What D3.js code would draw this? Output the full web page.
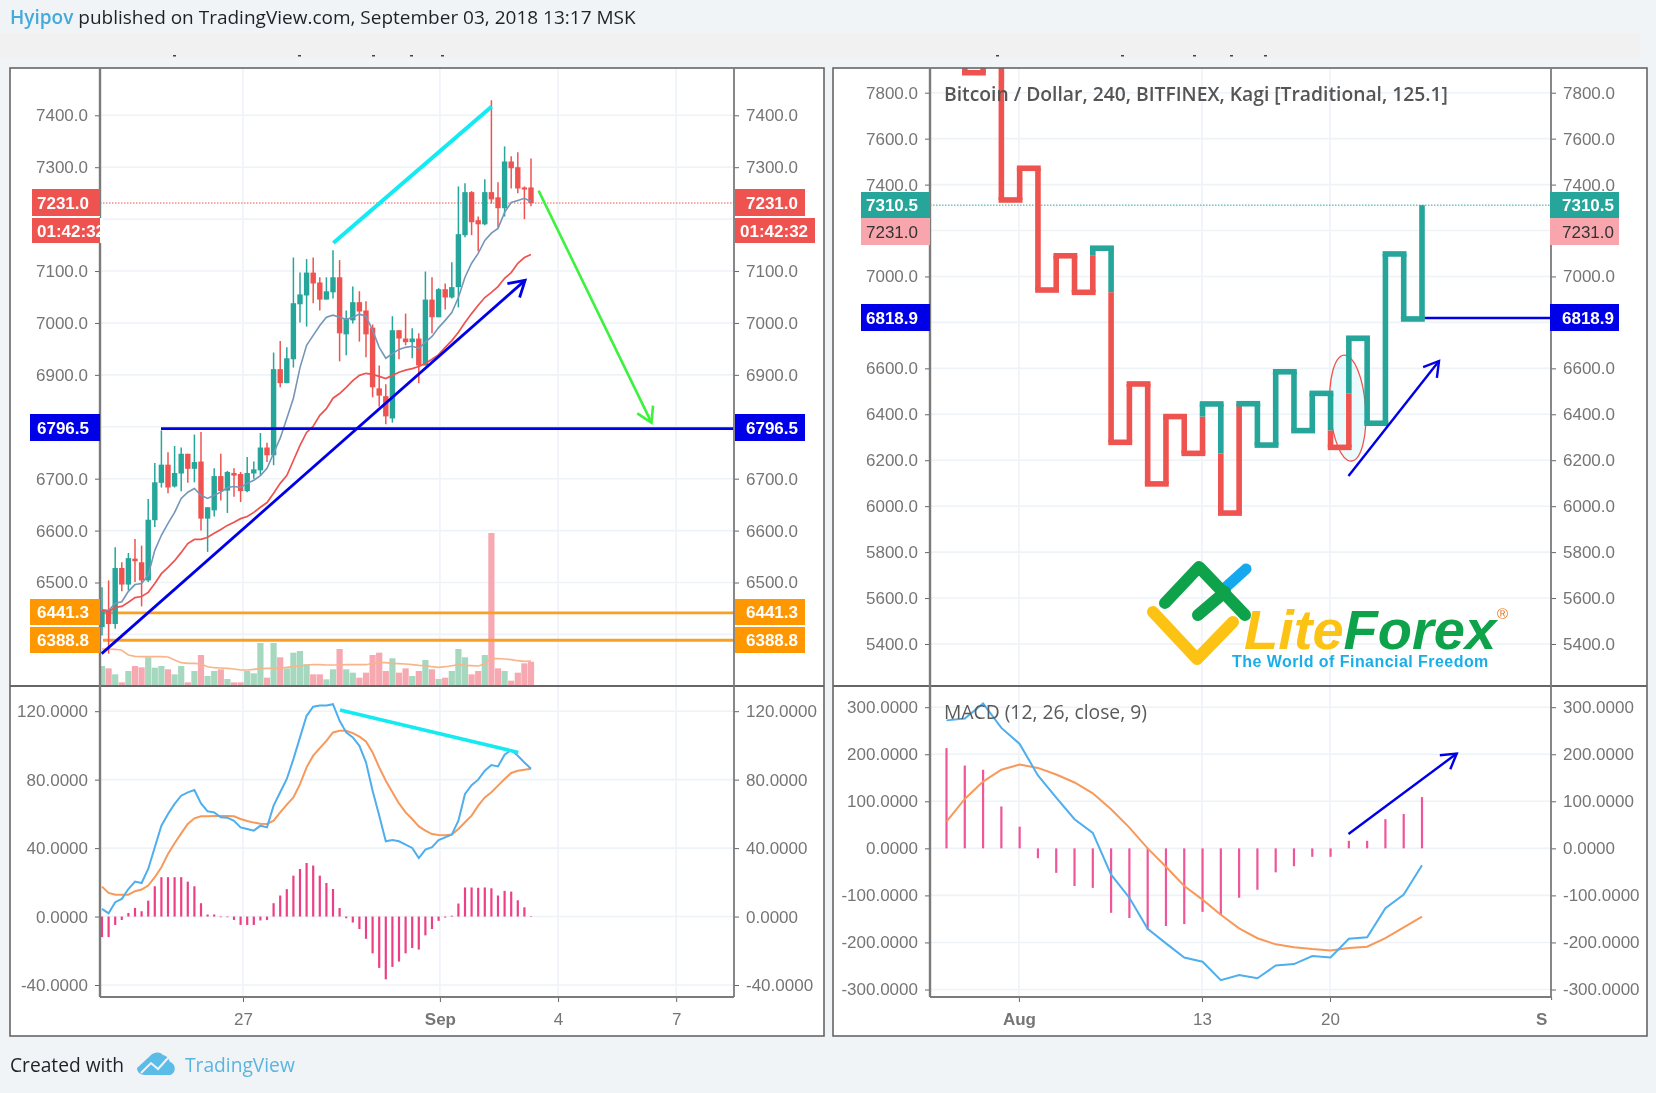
<!DOCTYPE html>
<html>
<head>
<meta charset="utf-8">
<script src="https://cdn.jsdelivr.net/npm/d3@7"></script>
<style>
    html, body { margin: 0; padding: 0; background: #f1f4f7; }
    svg { display: block; filter: blur(0.35px); }
    .tick-label { font-family: "Liberation Sans", sans-serif; font-size: 17px; fill: #757575; }
    .box-label { font-family: "Liberation Sans", sans-serif; font-size: 17px; font-weight: bold; }
    .caption { font-family: "Open Sans", sans-serif; }
</style>
</head>
<body>
<div id="chart"></div>
<script>
// left chart, 4h candles
var opens = [6414, 6447, 6420, 6528, 6496, 6546, 6539, 6504, 6620, 6692,
    6727, 6685, 6710, 6748, 6719, 6733, 6623, 6639, 6705, 6677,
    6711, 6709, 6676, 6710, 6716, 6760, 6745, 6911, 6884, 6930,
    7036, 7053, 7097, 7078, 7045, 7059, 7088, 6978, 7005, 7040,
    7024, 6991, 6874, 6859, 6816, 6986, 6970, 6963, 6970, 6918,
    7045, 7011, 7065, 7049, 7069, 7169, 7252, 7198, 7190, 7252,
    7242, 7221, 7311, 7300, 7261, 7261]
var closes = [6446, 6420, 6528, 6496, 6547, 6541, 6504, 6621, 6693, 6727,
    6683, 6711, 6748, 6719, 6732, 6623, 6645, 6705, 6676, 6713,
    6706, 6676, 6711, 6718, 6760, 6745, 6911, 6884, 6932, 7038,
    7055, 7097, 7076, 7045, 7061, 7088, 6980, 7009, 7040, 7022,
    6978, 6876, 6860, 6820, 6986, 6970, 6963, 6970, 6918, 7045,
    7011, 7065, 7049, 7069, 7171, 7252, 7194, 7190, 7252, 7238,
    7221, 7311, 7298, 7259, 7257, 7231]
var highs = [6491, 6504, 6568, 6539, 6557, 6584, 6571, 6661, 6730, 6793,
    6751, 6763, 6760, 6748, 6785, 6790, 6645, 6720, 6748, 6715,
    6720, 6713, 6742, 6733, 6788, 6769, 6943, 6965, 6953, 7126,
    7097, 7123, 7126, 7088, 7088, 7140, 7121, 7024, 7070, 7061,
    7042, 6997, 6918, 6882, 7013, 6986, 7018, 6990, 6980, 7099,
    7088, 7067, 7076, 7117, 7263, 7269, 7254, 7205, 7277, 7429,
    7271, 7340, 7321, 7329, 7263, 7317]
var lows = [6398, 6363, 6411, 6483, 6485, 6501, 6454, 6501, 6607, 6683,
    6672, 6683, 6676, 6692, 6693, 6600, 6559, 6627, 6658, 6634,
    6665, 6655, 6674, 6700, 6706, 6732, 6726, 6876, 6884, 6914,
    7001, 6993, 7038, 7024, 7045, 7047, 6926, 6938, 6999, 6964,
    6934, 6857, 6839, 6805, 6808, 6930, 6957, 6932, 6884, 6918,
    6980, 7011, 7026, 7047, 7030, 7165, 7169, 7138, 7188, 7230,
    7184, 7205, 7259, 7250, 7200, 7225]
var volumes = [57, 50, 32, 8, 42, 57, 53, 83, 52, 57,
    47, 32, 57, 8, 42, 90, 27, 42, 47, 18,
    8, 8, 42, 35, 126, 22, 126, 83, 50, 97,
    102, 62, 32, 32, 17, 47, 108, 47, 37, 22,
    37, 90, 97, 42, 80, 37, 50, 27, 42, 75,
    47, 18, 22, 42, 108, 83, 32, 42, 90, 456,
    50, 42, 13, 37, 65, 70]
var volumeMa = [108, 108, 107, 104, 90, 86, 85, 85, 85, 85,
    84, 75, 67, 65, 65, 63, 55, 52, 51, 50,
    48, 45, 45, 47, 49, 50, 50, 50, 53, 55,
    57, 60, 61, 61, 60, 60, 60, 61, 61, 61,
    61, 65, 67, 67, 65, 64, 63, 61, 59, 58,
    55, 53, 55, 58, 61, 59, 58, 57, 63, 80,
    79, 78, 76, 73, 71, 72]
var fastMa = [6448, 6446, 6460, 6463, 6483, 6496, 6498, 6514, 6562, 6591,
    6614, 6635, 6662, 6674, 6681, 6668, 6662, 6668, 6674, 6683,
    6685, 6683, 6691, 6697, 6706, 6720, 6749, 6778, 6816, 6855,
    6914, 6957, 6976, 6995, 7011, 7015, 7011, 7007, 7011, 7017,
    7013, 6986, 6953, 6932, 6941, 6949, 6953, 6955, 6951, 6963,
    6974, 6991, 7005, 7020, 7049, 7088, 7115, 7134, 7159, 7173,
    7182, 7213, 7232, 7236, 7240, 7234]
var slowMa = [6446, 6444, 6452, 6454, 6462, 6471, 6473, 6481, 6498, 6517,
    6529, 6542, 6558, 6575, 6583, 6583, 6587, 6595, 6602, 6610,
    6616, 6623, 6627, 6635, 6645, 6654, 6672, 6691, 6706, 6735,
    6764, 6789, 6801, 6822, 6835, 6855, 6864, 6876, 6889, 6899,
    6903, 6901, 6897, 6893, 6899, 6905, 6909, 6912, 6916, 6922,
    6930, 6939, 6953, 6966, 6982, 7001, 7018, 7034, 7049, 7059,
    7070, 7086, 7097, 7115, 7126, 7132]

// left macd
var macdLine = [4.5, 1.9, 8.4, 10.3, 16.1, 20.4, 19.6, 27.8, 40.5, 53.1,
    59.9, 65.8, 70.6, 72.6, 73.9, 66.1, 61.5, 60.9, 58, 57.8,
    56, 52.1, 51.2, 50.2, 53.1, 52.1, 64.8, 72.6, 80.4, 92,
    104.7, 117.3, 122.6, 123.3, 123.3, 124.1, 114.4, 107.6, 104.7, 99.8,
    90.1, 73.5, 59, 44, 44.7, 44, 42, 40.1, 34.2, 39.1,
    40.5, 44.7, 46.3, 47.9, 56, 71.6, 76.8, 80, 85.2, 88.5,
    87.7, 94.6, 97.3, 94, 90, 86.4]
var macdSignal = [17.5, 13.8, 12.8, 12.8, 12.8, 14.8, 15.8, 18.1, 23, 28.8,
    36.6, 42.8, 48.6, 54.1, 57.4, 58.6, 58.6, 58.8, 58.8, 58.8,
    58.6, 57, 55.8, 54.9, 54.3, 54.1, 56, 60.9, 65.4, 69.6,
    77.4, 87.2, 94, 98.4, 102.7, 107.6, 108.6, 108.6, 107.2, 105.1,
    102.3, 95.9, 87.2, 79.4, 72.6, 66.1, 60.9, 57, 52.7, 50.2,
    48.2, 47.7, 47.5, 47.9, 51.2, 55.1, 59, 64.8, 69.6, 72.6,
    76.5, 80.4, 83.9, 85.2, 85.8, 86.4]
var macdHist = [-12, -12, -4.9, -2, 2.1, 5, 3.1, 9.3, 17.7, 23,
    23, 23, 23, 20.4, 17.7, 7.8, 1.2, 1.2, -0.4, -0.4,
    -2, -4.9, -4.9, -4.9, -2.3, -2, 7.8, 12.3, 16, 23.9,
    27.8, 31.3, 29.8, 23.9, 19.6, 16.1, 5, -1, -3.5, -7.3,
    -13, -21.5, -30, -36.7, -29.4, -26.3, -21.5, -18.4, -19.3, -11,
    -7.3, -2.5, -0.6, 0.5, 7.6, 17, 17, 16.8, 17, 16.5,
    12.3, 15, 14.6, 9.5, 5.4, 0.3]

// right chart, kagi turning levels
var kagiLevels = [8100, 7887, 8020, 7333, 7471, 6941, 7090, 6931, 7123, 6278,
    6532, 6097, 6390, 6230, 6445, 5970, 6446, 6266, 6585, 6329,
    6491, 6256, 6731, 6361, 7098, 6815, 7310.5]
var kagiMacd = [272, 276, 308, 256, 222, 155, 108, 62, 33, -56,
    -105, -171, -202, -232, -241, -280, -269, -276, -249, -246,
    -229, -232, -192, -189, -127, -98, -36]
var kagiSignal = [57, 105, 142, 167, 178, 171, 157, 140, 117, 83,
    44, 0, -39, -80, -109, -141, -170, -191, -204, -210,
    -214, -217, -212, -209, -191, -168, -145]
var kagiHist = [213, 176, 167, 89, 46, -21, -52, -80, -84, -137,
    -148, -173, -165, -161, -135, -142, -105, -88, -51, -38,
    -18, -18, 16, 16, 62, 73, 109]

// tick labels
var leftPriceTicks = [7400, 7300, 7100, 7000, 6900, 6700, 6600, 6500]
var leftPriceGrid = [7400, 7300, 7200, 7100, 7000, 6900, 6800, 6700, 6600, 6500, 6400]
var rightPriceTicks = [7800, 7600, 7400, 7000, 6600, 6400, 6200, 6000, 5800, 5600, 5400]
var rightPriceGrid = [7800, 7600, 7400, 7200, 7000, 6800, 6600, 6400, 6200, 6000, 5800, 5600, 5400]
var leftMacdTicks = [120, 80, 40, 0, -40]
var rightMacdTicks = [300, 200, 100, 0, -100, -200, -300]
var leftDateTicks = [21.36, 51.2, 69.1, 87]
var leftDateLabels = ['27', 'Sep', '4', '7']
var rightDateTicks = [3.96, 13.97, 20.97, 33.06]
var rightDateLabels = ['Aug', '13', '20', 'Sep']

// drawn lines, [bar index, value]
var cyanTrend = [[35.05, 7154], [59.05, 7417]]
var blueTrend = [[-0.05, 6363], [64.1, 7082]]
var greenArrow = [[66.15, 7255], [83.26, 6808]]
var cyanMacd = [[36.06, 120.7], [63.08, 95.9]]
var kagiArrow = [[21.98, 6131], [26.93, 6632]]
var kagiMacdArrow = [[21.98, 30.6], [27.9, 201.5]]

var red = '#ef5350', teal = '#26a69a', blue = '#0000e8', orange = '#ff9800'
var axisGrey = '#7b7b7b', gridColor = '#eef3f8'

var svg = d3.select('#chart').append('svg').attr('width', 1656).attr('height', 1093)

// scales
var xL = d3.scaleLinear().domain([0, 65]).range([102, 531])
var yL = d3.scaleLinear().domain([7400, 6500]).range([115.3, 582.5])
var yVol = d3.scaleLinear().domain([0, 456]).range([685, 533])
var yMacdL = d3.scaleLinear().domain([120, -40]).range([711.2, 985])
var xR = d3.scaleLinear().domain([0, 26]).range([946.5, 1422])
var yR = d3.scaleLinear().domain([7800, 5400]).range([92.7, 644])
var yMacdR = d3.scaleLinear().domain([300, -300]).range([707.2, 989.5])

// frame, header, footer
svg.append('rect').attr('x', 0).attr('y', 33).attr('width', 1640).attr('height', 25).attr('fill', '#f1f1f2')
var header = svg.append('text').attr('class', 'caption').attr('x', 10).attr('y', 24)
    .attr('font-size', 19).attr('fill', '#1e2226')
header.append('tspan').attr('fill', '#45a9dc').attr('font-weight', 600).text('Hyipov')
header.append('tspan').text(' published on TradingView.com, September 03, 2018 13:17 MSK')

;[173, 298, 372, 410, 441, 996, 1121, 1193, 1230, 1264].forEach(function (sx) {
    svg.append('rect').attr('x', sx).attr('y', 55).attr('width', 3).attr('height', 1.5).attr('fill', '#444')
})

var panels = [
    { x: 10, left: 100, right: 734 },
    { x: 833, left: 930, right: 1551 }
]
panels.forEach(function (p, i) {
    svg.append('rect').attr('x', p.x).attr('y', 68).attr('width', 814).attr('height', 968)
        .attr('fill', '#fff')
    svg.append('clipPath').attr('id', 'clip' + i).append('rect')
        .attr('x', p.left).attr('y', 68).attr('width', p.right - p.left).attr('height', 618)
    svg.append('clipPath').attr('id', 'clipm' + i).append('rect')
        .attr('x', p.left).attr('y', 686).attr('width', p.right - p.left).attr('height', 311)
})

function grid(scale, ticks, p) {
    svg.append('g').selectAll('line').data(ticks).enter().append('line')
        .attr('x1', p.left).attr('x2', p.right)
        .attr('y1', function (d) { return scale(d) })
        .attr('y2', function (d) { return scale(d) })
        .attr('stroke', gridColor).attr('stroke-width', 1.6)
}
function vgrid(scale, ticks, top, bottom) {
    svg.append('g').selectAll('line').data(ticks).enter().append('line')
        .attr('x1', function (d) { return scale(d) })
        .attr('x2', function (d) { return scale(d) })
        .attr('y1', top).attr('y2', bottom)
        .attr('stroke', gridColor).attr('stroke-width', 1.6)
}
grid(yL, leftPriceGrid, panels[0])
grid(yMacdL, leftMacdTicks, panels[0])
grid(yR, rightPriceGrid, panels[1])
grid(yMacdR, rightMacdTicks, panels[1])
vgrid(xL, leftDateTicks, 68, 997)
vgrid(xR, rightDateTicks.slice(0, 3), 68, 997)

// price and macd axes on both sides
function axis(orient, scale, ticks, x, fmt) {
    var a = orient(scale).tickValues(ticks).tickSize(5).tickPadding(7)
        .tickFormat(function (d) { return d.toFixed(fmt) })
    var g = svg.append('g').attr('transform', 'translate(' + x + ',0)').call(a)
    g.select('.domain').remove()
    g.selectAll('.tick line').attr('stroke', '#666')
    g.selectAll('.tick text').attr('class', 'tick-label').attr('font-family', null).attr('font-size', null)
}
axis(d3.axisLeft, yL, leftPriceTicks, 100, 1)
axis(d3.axisRight, yL, leftPriceTicks, 734, 1)
axis(d3.axisLeft, yMacdL, leftMacdTicks, 100, 4)
axis(d3.axisRight, yMacdL, leftMacdTicks, 734, 4)
axis(d3.axisLeft, yR, rightPriceTicks, 930, 1)
axis(d3.axisRight, yR, rightPriceTicks, 1551, 1)
axis(d3.axisLeft, yMacdR, rightMacdTicks, 930, 4)
axis(d3.axisRight, yMacdR, rightMacdTicks, 1551, 4)

// date axes
function dateAxis(scale, ticks, labels) {
    var a = d3.axisBottom(scale).tickValues(ticks).tickSize(5).tickPadding(11)
        .tickFormat(function (d, j) { return labels[j] })
    var g = svg.append('g').attr('transform', 'translate(0,997)').call(a)
    g.select('.domain').remove()
    g.selectAll('.tick line').attr('stroke', '#666')
    g.selectAll('.tick text').attr('class', 'tick-label').attr('font-family', null).attr('font-size', null)
        .style('font-weight', function (d, j) { return labels[j].length == 3 ? 'bold' : 'normal' })
}
dateAxis(xL, leftDateTicks, leftDateLabels)
dateAxis(xR, rightDateTicks, rightDateLabels)
// the last Sep label is cut at the axis end
svg.append('rect').attr('x', 1548).attr('y', 1000).attr('width', 98).attr('height', 35).attr('fill', '#fff')

// volume
var pL = svg.append('g').attr('clip-path', 'url(#clip0)')
var isUp = function (i) { return closes[i] >= opens[i] }
pL.append('g').selectAll('rect').data(volumes).enter().append('rect')
    .attr('x', function (d, i) { return xL(i) - 3.1 })
    .attr('y', function (d) { return yVol(d) })
    .attr('width', 6.2)
    .attr('height', function (d) { return yVol(0) - yVol(d) })
    .attr('fill', function (d, i) { return isUp(i) ? '#a6d7bf' : '#f6a9b1' })
pL.append('path').datum(volumeMa)
    .attr('d', d3.line().x(function (d, i) { return xL(i) }).y(function (d) { return yVol(d) }))
    .attr('fill', 'none').attr('stroke', '#f9b48a').attr('stroke-width', 1.6)

// levels on the left chart
function hline(g, x1, x2, y, color, w, dash) {
    g.append('line').attr('x1', x1).attr('x2', x2).attr('y1', y).attr('y2', y)
        .attr('stroke', color).attr('stroke-width', w).attr('stroke-dasharray', dash || null)
}
hline(pL, 100, 734, yL(7231), red, 1, '1.5 1.5')
hline(pL, 103, 734, yL(6441.3), '#fb9f23', 2.8)
hline(pL, 103, 734, yL(6388.8), '#fb9f23', 2.8)

// candles
var candles = pL.append('g')
candles.selectAll('line').data(opens).enter().append('line')
    .attr('x1', function (d, i) { return xL(i) })
    .attr('x2', function (d, i) { return xL(i) })
    .attr('y1', function (d, i) { return yL(highs[i]) })
    .attr('y2', function (d, i) { return yL(lows[i]) })
    .attr('stroke', function (d, i) { return isUp(i) ? teal : red })
    .attr('stroke-width', 1.5)
candles.selectAll('rect').data(opens).enter().append('rect')
    .attr('x', function (d, i) { return xL(i) - 2.7 })
    .attr('width', 5.4)
    .attr('y', function (d, i) { return yL(Math.max(opens[i], closes[i])) })
    .attr('height', function (d, i) { return Math.max(2, Math.abs(yL(opens[i]) - yL(closes[i]))) })
    .attr('fill', function (d, i) { return isUp(i) ? teal : red })

var lineL = d3.line().x(function (d, i) { return xL(i) }).y(function (d) { return yL(d) })
pL.append('path').datum(fastMa).attr('d', lineL).attr('fill', 'none').attr('stroke', '#7596b8').attr('stroke-width', 1.6)
pL.append('path').datum(slowMa).attr('d', lineL).attr('fill', 'none').attr('stroke', red).attr('stroke-width', 1.7)

// arrows and trend lines
function segment(g, sx, sy, pts, color, w) {
    g.append('line')
        .attr('x1', sx(pts[0][0])).attr('y1', sy(pts[0][1]))
        .attr('x2', sx(pts[1][0])).attr('y2', sy(pts[1][1]))
        .attr('stroke', color).attr('stroke-width', w)
}
function arrow(g, sx, sy, pts, color, w, size) {
    segment(g, sx, sy, pts, color, w)
    var x1 = sx(pts[1][0]), y1 = sy(pts[1][1])
    var a = Math.atan2(y1 - sy(pts[0][1]), x1 - sx(pts[0][0]))
    var head = [a + 2.6, a - 2.6].map(function (t) {
        return [x1 + size * Math.cos(t), y1 + size * Math.sin(t)]
    })
    g.append('path').datum([head[0], [x1, y1], head[1]])
        .attr('d', d3.line())
        .attr('fill', 'none').attr('stroke', color).attr('stroke-width', w)
}
hline(pL, xL(8.94), 734, yL(6796.5), blue, 2.6)
arrow(pL, xL, yL, blueTrend, blue, 2.8, 18)
segment(pL, xL, yL, cyanTrend, '#14eaf2', 4)
svg.append('g').call(function (g) { arrow(g, xL, yL, greenArrow, '#3df23d', 2.6, 17) })

// left macd pane
var mL = svg.append('g').attr('clip-path', 'url(#clipm0)')
mL.append('g').selectAll('line').data(macdHist).enter().append('line')
    .attr('x1', function (d, i) { return xL(i) })
    .attr('x2', function (d, i) { return xL(i) })
    .attr('y1', yMacdL(0))
    .attr('y2', function (d) { return yMacdL(d) })
    .attr('stroke', '#ec3f86').attr('stroke-width', 2.2)
var lineM = d3.line().x(function (d, i) { return xL(i) }).y(function (d) { return yMacdL(d) })
mL.append('path').datum(macdSignal).attr('d', lineM).attr('fill', 'none').attr('stroke', '#f7995a').attr('stroke-width', 2)
mL.append('path').datum(macdLine).attr('d', lineM).attr('fill', 'none').attr('stroke', '#4eaeee').attr('stroke-width', 2)
segment(mL, xL, yMacdL, cyanMacd, '#14eaf2', 3.6)

// kagi line, colour flips when a turn goes through the previous shoulder
var pR = svg.append('g').attr('clip-path', 'url(#clip1)')
hline(pR, 930, 1551, yR(7310.5), teal, 1, '1.5 1.5')
hline(pR, xR(26), 1551, yR(6818.9), blue, 2.4)
pR.append('ellipse')
    .attr('cx', xR(21.94)).attr('cy', yR(6427))
    .attr('rx', xR(0.97) - xR(0)).attr('ry', yR(6196) - yR(6427))
    .attr('transform', 'rotate(-4 ' + xR(21.94) + ' ' + yR(6427) + ')')
    .attr('fill', '#00bcd4').attr('fill-opacity', 0.08)
    .attr('stroke', red).attr('stroke-width', 1.3)

var kagiSegs = []
var state = red
kagiLevels.forEach(function (to, i) {
    if (i > 0) {
        var from = kagiLevels[i - 1]
        var shoulder = i > 1 ? kagiLevels[i - 2] : from
        var goesUp = to > from
        if (i > 1 && goesUp && state == red && to > shoulder) {
            kagiSegs.push({ x1: i, y1: from, x2: i, y2: shoulder, c: red })
            kagiSegs.push({ x1: i, y1: shoulder, x2: i, y2: to, c: teal })
            state = teal
        } else if (i > 1 && !goesUp && state == teal && to < shoulder) {
            kagiSegs.push({ x1: i, y1: from, x2: i, y2: shoulder, c: teal })
            kagiSegs.push({ x1: i, y1: shoulder, x2: i, y2: to, c: red })
            state = red
        } else {
            kagiSegs.push({ x1: i, y1: from, x2: i, y2: to, c: state })
        }
    }
    if (i < kagiLevels.length - 1) {
        kagiSegs.push({ x1: i, y1: to, x2: i + 1, y2: to, c: state })
    }
})
pR.append('g').selectAll('line').data(kagiSegs).enter().append('line')
    .attr('x1', function (d) { return xR(d.x1) })
    .attr('x2', function (d) { return xR(d.x2) })
    .attr('y1', function (d) { return yR(d.y1) })
    .attr('y2', function (d) { return yR(d.y2) })
    .attr('stroke', function (d) { return d.c })
    .attr('stroke-width', 5.6)
    .attr('stroke-linecap', function (d) { return d.x1 == d.x2 ? 'butt' : 'square' })
arrow(pR, xR, yR, kagiArrow, blue, 2.4, 17)

// right macd pane
var mR = svg.append('g').attr('clip-path', 'url(#clipm1)')
mR.append('g').selectAll('line').data(kagiHist).enter().append('line')
    .attr('x1', function (d, i) { return xR(i) })
    .attr('x2', function (d, i) { return xR(i) })
    .attr('y1', yMacdR(0))
    .attr('y2', function (d) { return yMacdR(d) })
    .attr('stroke', '#f0559a').attr('stroke-width', 2.2)
var lineK = d3.line().x(function (d, i) { return xR(i) }).y(function (d) { return yMacdR(d) })
mR.append('path').datum(kagiSignal).attr('d', lineK).attr('fill', 'none').attr('stroke', '#f7995a').attr('stroke-width', 2)
mR.append('path').datum(kagiMacd).attr('d', lineK).attr('fill', 'none').attr('stroke', '#4eaeee').attr('stroke-width', 2)
arrow(mR, xR, yMacdR, kagiMacdArrow, blue, 2.4, 17)

// legends
svg.append('text').attr('class', 'caption').attr('x', 944).attr('y', 101)
    .attr('font-size', 19.3).attr('font-weight', 600).attr('fill', '#555')
    .text('Bitcoin / Dollar, 240, BITFINEX, Kagi [Traditional, 125.1]')
svg.append('text').attr('class', 'caption').attr('x', 944).attr('y', 719)
    .attr('font-size', 19.3).attr('fill', '#5a5a5a')
    .text('MACD (12, 26, close, 9)')

// panel borders and axis lines, on top of the marks
panels.forEach(function (p) {
    svg.append('rect').attr('x', p.x).attr('y', 68).attr('width', 814).attr('height', 968)
        .attr('fill', 'none').attr('stroke', '#666').attr('stroke-width', 1.6)
    hline(svg, p.x, p.x + 814, 686, '#666', 2)
    hline(svg, p.left, p.right, 997, axisGrey, 2)
    svg.append('line').attr('x1', p.left).attr('x2', p.left).attr('y1', 68).attr('y2', 997)
        .attr('stroke', axisGrey).attr('stroke-width', 2.4)
    svg.append('line').attr('x1', p.right).attr('x2', p.right).attr('y1', 68).attr('y2', 997)
        .attr('stroke', axisGrey).attr('stroke-width', 1.8)
})

// value boxes
function priceBox(x, w, y, h, fill, color, label, textX, weight) {
    svg.append('rect').attr('x', x).attr('y', y).attr('width', w).attr('height', h).attr('fill', fill)
    svg.append('text').attr('class', 'box-label').attr('x', textX).attr('y', y + h / 2 + 6)
        .attr('fill', color).style('font-weight', weight || 'bold').text(label)
}
var leftBoxes = [
    { x: 32, y: 189, h: 27, fill: red, label: '7231.0' },
    { x: 32, y: 218, h: 25, fill: red, label: '01:42:32', wide: true },
    { x: 30, y: 414, h: 27, fill: blue, label: '6796.5' },
    { x: 30, y: 599, h: 26, fill: orange, label: '6441.3' },
    { x: 30, y: 627, h: 26, fill: orange, label: '6388.8' }
]
leftBoxes.forEach(function (b) {
    priceBox(b.x, 100 - b.x, b.y, b.h, b.fill, '#fff', b.label, 37)
    priceBox(735, b.wide ? 80 : 70, b.y, b.h, b.fill, '#fff', b.label, b.wide ? 740 : 746)
})
// countdown on the left side gets cut by the axis
svg.append('rect').attr('x', 100).attr('y', 218).attr('width', 3).attr('height', 25).attr('fill', '#fff')
svg.append('line').attr('x1', 32).attr('x2', 100).attr('y1', 216.8).attr('y2', 216.8)
    .attr('stroke', '#fff').attr('stroke-width', 1.4)

var rightBoxes = [
    { y: 192, h: 26, fill: teal, color: '#fff', label: '7310.5' },
    { y: 218, h: 27, fill: '#f8a5ad', color: '#333', label: '7231.0', weight: 'normal' },
    { y: 304, h: 27, fill: blue, color: '#fff', label: '6818.9' }
]
rightBoxes.forEach(function (b) {
    priceBox(861, 69, b.y, b.h, b.fill, b.color, b.label, 866, b.weight)
    priceBox(1550, 69, b.y, b.h, b.fill, b.color, b.label, 1562, b.weight)
})

// logo
var logo = svg.append('g').attr('fill', 'none').attr('stroke-linecap', 'round').attr('stroke-linejoin', 'round')
logo.append('path').attr('d', 'M1226,587L1246,569').attr('stroke', '#14a9ef').attr('stroke-width', 11)
logo.append('path').attr('d', 'M1165,603L1199,567L1245,615').attr('stroke', '#0ea24b').attr('stroke-width', 12)
logo.append('path').attr('d', 'M1198,615L1225,592').attr('stroke', '#0ea24b').attr('stroke-width', 12)
logo.append('path').attr('d', 'M1153,612L1197,659L1233,622').attr('stroke', '#fdc314').attr('stroke-width', 12)
var brand = svg.append('text').attr('x', 1244).attr('y', 649)
    .attr('font-family', 'Liberation Sans').attr('font-size', 56).attr('font-weight', 'bold').attr('font-style', 'italic')
brand.append('tspan').attr('fill', '#fdc314').text('Lite')
brand.append('tspan').attr('fill', '#0ea24b').text('Forex')
svg.append('text').attr('x', 1497).attr('y', 619).attr('font-family', 'Liberation Sans')
    .attr('font-size', 15).attr('fill', '#e8761e').text('®')
svg.append('text').attr('x', 1232).attr('y', 667).attr('font-family', 'Liberation Sans')
    .attr('font-size', 16).attr('font-weight', 'bold').attr('letter-spacing', 0.45).attr('fill', '#18aeea')
    .text('The World of Financial Freedom')

// footer
svg.append('text').attr('class', 'caption').attr('x', 10).attr('y', 1072)
    .attr('font-size', 19.2).attr('fill', '#1e2226').text('Created with')
svg.append('path')
    .attr('d', 'M137,1068L150,1056C153,1052 160,1051 163,1055C168,1056 169,1060 170,1062C174,1063 176,1068 174,1072C172,1075 170,1075 168,1075L145,1075C140,1075 137,1072 137,1068Z')
    .attr('fill', '#5cbce8')
svg.append('path').attr('d', 'M141,1073L151,1063L158,1069L168,1058')
    .attr('fill', 'none').attr('stroke', '#f1f4f7').attr('stroke-width', 2)
svg.append('text').attr('class', 'caption').attr('x', 185).attr('y', 1072)
    .attr('font-size', 19.2).attr('fill', '#5ab4e0').text('TradingView')
</script>
</body>
</html>
